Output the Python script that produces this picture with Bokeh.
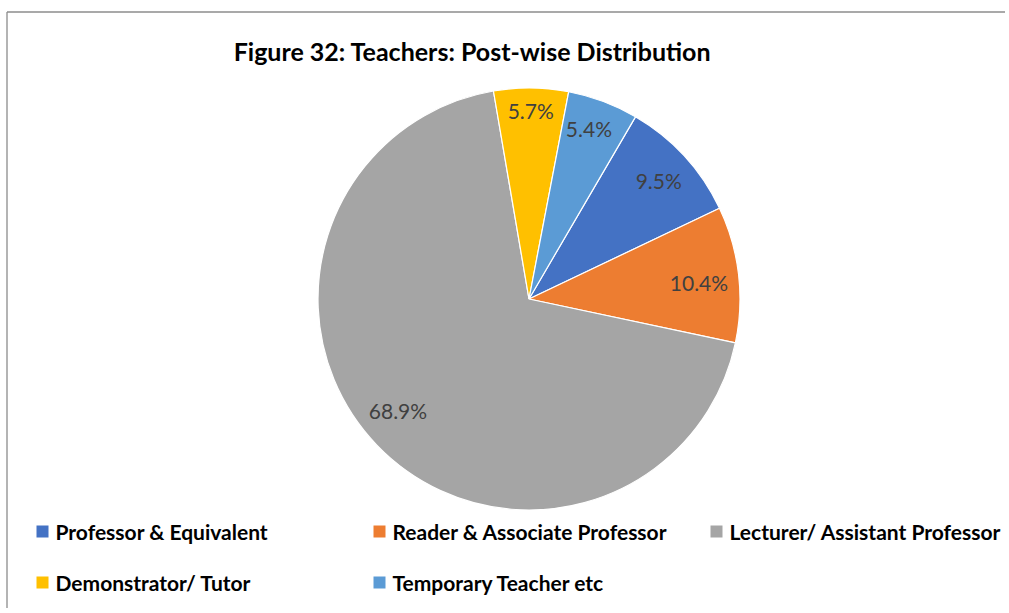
import math
from bokeh.plotting import figure
from bokeh.models import Range1d, ColumnDataSource
from bokeh.core.properties import value
from bokeh.embed import file_html
from bokeh.resources import INLINE

# ---- data ----
title_text = "Figure 32: Teachers: Post-wise Distribution"
categories = ["Professor & Equivalent", "Reader & Associate Professor",
              "Lecturer/ Assistant Professor", "Demonstrator/ Tutor",
              "Temporary Teacher etc"]
shares = [9.5, 10.4, 68.9, 5.7, 5.4]
colors = ["#4472C4", "#ED7D31", "#A5A5A5", "#FFC000", "#5B9BD5"]

# ---- layout / style ----
W, H = 1005, 608
OX, OY = 0, 0              # page offset
cx, cy = 528.5, -298.5     # pie centre (x right, y = -image y)
R = 211
first_angle = 30.3         # degrees clockwise from 12 o'clock
label_r = 0.835 * R
# small per-label nudges (pixels, x right / y up) to mimic Excel placement
nudge_x = [0, -5, -4, 0, -2]
nudge_y = [-1, -4, 11, 12, 6]
FONT = value("Lato")

p = figure(width=W, height=H, output_backend="svg", toolbar_location=None,
           x_range=Range1d(OX, OX + W), y_range=Range1d(-(OY + H), -OY),
           min_border=0, outline_line_color=None, background_fill_color="white")
p.axis.visible = False
p.grid.visible = False

total = sum(shares)
starts, ends, lx, ly, labels = [], [], [], [], []
cum = 0.0
for i, s in enumerate(shares):
    a0 = first_angle + cum / total * 360.0
    cum += s
    a1 = first_angle + cum / total * 360.0
    starts.append(math.radians(90 - a0))
    ends.append(math.radians(90 - a1))
    mid = math.radians((a0 + a1) / 2)
    lx.append(cx + label_r * math.sin(mid) + nudge_x[i])
    ly.append(cy + label_r * math.cos(mid) + nudge_y[i])
    labels.append(f"{s:.1f}%")

src = ColumnDataSource(dict(start=starts, end=ends, color=colors,
                            lx=lx, ly=ly, label=labels))
p.wedge(x=cx, y=cy, radius=R, start_angle="start", end_angle="end",
        direction="clock", fill_color="color", line_color="white",
        line_width=1.2, source=src)
p.text(x="lx", y="ly", text="label", source=src, text_align="center",
       text_baseline="middle", text_font=FONT, text_font_size="21px",
       text_color="#404040")

# title
p.text(x=[472], y=[-50], text=[title_text], text_align="center",
       text_baseline="middle", text_font=FONT, text_font_style="bold",
       text_font_size="25px", text_color="#000000")

# legend
mx = [42, 379, 716, 42, 379]
my = [-531, -531, -531, -582, -582]
leg = ColumnDataSource(dict(x=mx, y=my, tx=[m + 13 for m in mx],
                            name=categories, color=colors))
p.scatter(x="x", y="y", source=leg, marker="square", size=12,
          fill_color="color", line_color=None)
p.text(x="tx", y="y", text="name", source=leg, text_align="left",
       text_baseline="middle", text_font=FONT, text_font_style="bold",
       text_font_size="21px", text_color="#000000")

# chart-area border (top and left visible)
p.segment(x0=[6.5, 6.5], y0=[-11.5, -11.5], x1=[1005, 6.5], y1=[-11.5, -608],
          line_color="#8C8C8C", line_width=1.3)

open("out.html", "w").write(file_html(p, INLINE))
